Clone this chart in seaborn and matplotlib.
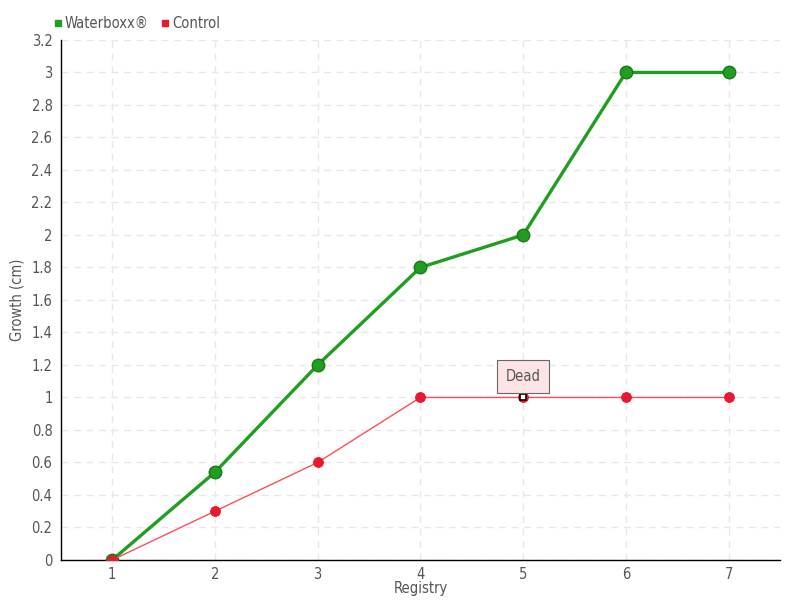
import matplotlib
matplotlib.use('Agg')
import matplotlib.pyplot as plt
import pandas as pd
import seaborn as sns
from matplotlib.lines import Line2D

# data
registry = [1, 2, 3, 4, 5, 6, 7]
waterboxx = [0, 0.54, 1.2, 1.8, 2.0, 3.0, 3.0]
control = [0, 0.3, 0.6, 1.0, 1.0, 1.0, 1.0]
y_ticks = [0, 0.2, 0.4, 0.6, 0.8, 1, 1.2, 1.4, 1.6, 1.8, 2, 2.2, 2.4, 2.6, 2.8, 3, 3.2]
dead_point = 5

sns.set_theme(style="white")
plt.rcParams['font.family'] = ['DejaVu Sans']
plt.rcParams['font.stretch'] = 'condensed'

df = pd.DataFrame({'Registry': registry, 'Waterboxx®': waterboxx, 'Control': control})

fig = plt.figure(figsize=(8, 6), dpi=100)
ax = fig.add_axes([0.076, 0.0667, 0.899, 0.8667])

text_col = '#555555'
green = '#1f9e1f'
red = '#e8192c'

sns.lineplot(data=df, x='Registry', y='Waterboxx®', ax=ax, color=green, linewidth=2.4,
             marker='o', markersize=9, markeredgecolor='#1a7a1a', markeredgewidth=1, zorder=3)
sns.lineplot(data=df, x='Registry', y='Control', ax=ax, color='#ff4d5a', linewidth=1,
             marker='o', markersize=7, markerfacecolor=red, markeredgecolor=red, zorder=4)

# dead marker
i = registry.index(dead_point)
ax.plot(registry[i], control[i], marker='s', markersize=5, markerfacecolor='white',
        markeredgecolor='black', markeredgewidth=1.2, zorder=5)
ax.annotate('Dead', xy=(registry[i], control[i]), xytext=(0, 15), textcoords='offset points',
            ha='center', va='center', fontsize=10.5, color=text_col,
            bbox=dict(boxstyle='square,pad=0.6', fc='#fde4e4', ec='#666666', lw=0.8),
            zorder=6)

ax.set_xlim(0.5, 7.5)
ax.set_ylim(0, 3.2)
ax.set_xticks(registry)
ax.set_yticks(y_ticks)
ax.set_yticklabels([f'{v:g}' for v in y_ticks])
ax.grid(True, color='#e8e8e8', linestyle=(0, (5, 4)), linewidth=1)
ax.set_axisbelow(True)

for s in ['top', 'right']:
    ax.spines[s].set_visible(False)
for s in ['left', 'bottom']:
    ax.spines[s].set_color('black')
    ax.spines[s].set_linewidth(1)

ax.tick_params(axis='both', colors=text_col, labelsize=10.5, length=4, width=1, direction='out', pad=2)
ax.tick_params(axis='y', color='black')
ax.tick_params(axis='x', color='#cccccc', length=3)

ax.set_xlabel('Registry', fontsize=10.5, color=text_col)
ax.set_ylabel('Growth (cm)', fontsize=10.5, color=text_col)
ax.yaxis.set_label_coords(-0.05, 0.5)
ax.xaxis.set_label_coords(0.5, -0.04)

# legend above the plot
handles = [Line2D([], [], marker='s', color='none', markerfacecolor=green, markeredgecolor=green, markersize=5),
           Line2D([], [], marker='s', color='none', markerfacecolor=red, markeredgecolor=red, markersize=5)]
leg = fig.legend(handles, ['Waterboxx®', 'Control'], loc='upper left', bbox_to_anchor=(0.05, 0.995),
                 ncol=2, frameon=False, fontsize=10.5, handlelength=0.6, handletextpad=0.2,
                 columnspacing=0.8, labelcolor=text_col)

fig.savefig('out.png', dpi=100)
